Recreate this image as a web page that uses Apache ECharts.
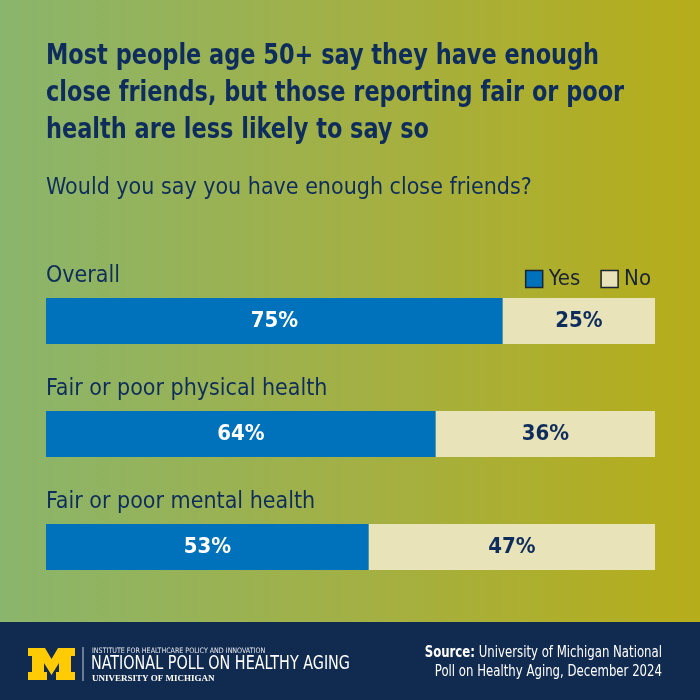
<!DOCTYPE html>
<html>
<head>
<meta charset="utf-8">
<script src="https://cdn.jsdelivr.net/npm/echarts@6/dist/echarts.min.js"></script>
<style>html,body{margin:0;padding:0;}#c{width:700px;height:700px;}</style>
</head>
<body>
<div id="c"></div>
<script>
const categories = ['Overall', 'Fair or poor physical health', 'Fair or poor mental health'];
const yesValues = [75, 64, 53];
const noValues = [25, 36, 47];
const seriesNames = ['Yes', 'No'];
const titleLines = ['Most people age 50+ say they have enough', 'close friends, but those reporting fair or poor', 'health are less likely to say so'];
const subtitleText = 'Would you say you have enough close friends?';

const FONT = '"Liberation Sans Narrow", "DejaVu Sans Condensed", "Roboto Condensed", sans-serif';
const NAVY = '#0f2d5c';
const BLUE = '#0072bc';
const BEIGE = '#e8e3b9';

const chart = echarts.init(document.getElementById('c'), null, {renderer: 'canvas'});

const mShape = [[0,0],[17,0],[23.5,11],[30,0],[47,0],[47,8],[43,8],[43,24],[47,24],[47,32],[28,32],[28,24],[31,24],[31,15],[23.5,27],[16,15],[16,24],[19,24],[19,32],[0,32],[0,24],[4,24],[4,8],[0,8]];

const option = {
  animation: false,
  backgroundColor: new echarts.graphic.LinearGradient(0, 0, 1, 0, [
    {offset: 0, color: '#8ab56c'},
    {offset: 0.5, color: '#a2b045'},
    {offset: 1, color: '#b6ad1a'}
  ]),
  title: [{
    text: subtitleText,
    left: 41, top: 172,
    textStyle: {fontFamily: FONT, fontWeight: 'normal', fontSize: 23, color: NAVY}
  }],
  legend: {
    right: 44, top: 263,
    itemWidth: 17, itemHeight: 17, itemGap: 20,
    icon: 'rect',
    data: seriesNames,
    textStyle: {fontFamily: FONT, fontSize: 22, color: '#1b2433', padding: [0,0,0,1]}
  },
  grid: {left: 46, right: 45, top: 264.5, bottom: 96.5, containLabel: false},
  xAxis: {type: 'value', min: 0, max: 100, show: false},
  yAxis: {
    type: 'category', data: categories, inverse: true,
    axisLine: {show: false}, axisTick: {show: false}, splitLine: {show: false},
    axisLabel: {
      inside: true, margin: 0, align: 'left', verticalAlign: 'bottom',
      padding: [0, 0, 33, 0],
      fontFamily: FONT, fontSize: 23, color: NAVY
    }
  },
  series: [{
    name: seriesNames[0], type: 'bar', stack: 'a', data: yesValues, barWidth: 46,
    itemStyle: {color: BLUE},
    label: {show: true, position: 'inside', formatter: '{c}%', fontFamily: FONT, fontWeight: 'bold', fontSize: 22, color: '#ffffff'}
  }, {
    name: seriesNames[1], type: 'bar', stack: 'a', data: noValues, barWidth: 46,
    itemStyle: {color: BEIGE},
    label: {show: true, position: 'inside', formatter: '{c}%', fontFamily: FONT, fontWeight: 'bold', fontSize: 22, color: NAVY}
  }],
  graphic: [
    {type: 'text', x: 46, y: 38, scaleX: 0.86, style: {
      text: titleLines.join('\n'), fontFamily: FONT, fontWeight: 'bold', fontSize: 29, lineHeight: 37, fill: NAVY
    }},
    {type: 'rect', left: 0, top: 622, shape: {width: 700, height: 78}, style: {fill: '#112a50'}},
    {type: 'polygon', x: 28, y: 648, shape: {points: mShape}, style: {fill: '#ffcb05'}},
    {type: 'line', shape: {x1: 83, y1: 647, x2: 83, y2: 681}, style: {stroke: '#c8ccd6', lineWidth: 1}},
    {type: 'text', x: 92, y: 647, scaleX: 0.94, style: {text: 'INSTITUTE FOR HEALTHCARE POLICY AND INNOVATION', fontFamily: FONT, fontSize: 7.5, fill: '#e8ebf0'}},
    {type: 'text', x: 91, y: 655, scaleX: 0.84, style: {text: 'NATIONAL POLL ON HEALTHY AGING', fontFamily: FONT, fontSize: 19, fill: '#ffffff'}},
    {type: 'text', x: 92, y: 674, style: {text: 'UNIVERSITY OF MICHIGAN', fontFamily: '"Liberation Serif", "DejaVu Serif", serif', fontWeight: 'bold', fontSize: 9, fill: '#ffffff'}},
    {type: 'text', x: 662, y: 646, scaleX: 0.87, style: {
      text: '{b|Source:} University of Michigan National', align: 'right',
      fontFamily: FONT, fontSize: 15, fill: '#ffffff',
      rich: {b: {fontFamily: FONT, fontWeight: 'bold', fontSize: 15, fill: '#ffffff'}}
    }},
    {type: 'text', x: 662, y: 665, scaleX: 0.87, style: {text: 'Poll on Healthy Aging, December 2024', align: 'right', fontFamily: FONT, fontSize: 15, fill: '#ffffff'}}
  ]
};
option.legend.data = seriesNames.map(function (n, i) {
  return {name: n, itemStyle: {color: i === 0 ? BLUE : BEIGE, borderColor: '#1b2433', borderWidth: 1.5}};
});
chart.setOption(option);
</script>
</body>
</html>
